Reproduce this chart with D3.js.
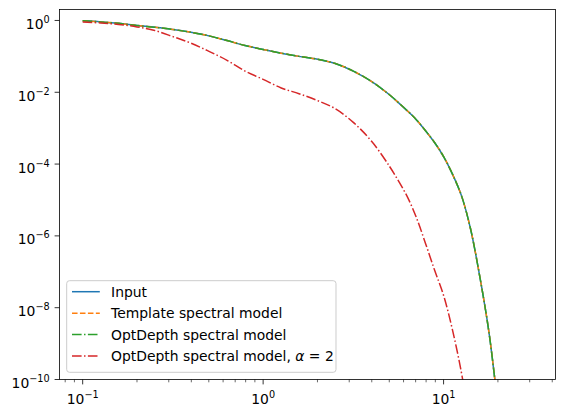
<!DOCTYPE html>
<html>
<head>
<meta charset="utf-8">
<script src="https://cdn.jsdelivr.net/npm/d3@7"></script>
<style>
  body { margin: 0; background: #fff; }
  svg text { font-family: "DejaVu Sans", sans-serif; fill: #000; }
</style>
</head>
<body>
<div id="chart"></div>
<script>
// energies (x) shared by all curves
var energy = [0.1, 0.126, 0.158, 0.2, 0.251, 0.316, 0.398, 0.501, 0.631, 0.794,
  1, 1.26, 1.58, 2.0, 2.51, 3.16, 3.98, 5.01, 5.62, 6.31, 7.08, 7.94, 8.91,
  10, 11.2, 12.6, 14.1, 15.8, 17.8, 20.0, 25.1, 31.6];

var inputFlux = [0.977, 0.912, 0.832, 0.724, 0.646, 0.562, 0.468, 0.372, 0.275, 0.200,
  0.155, 0.123, 0.100, 0.0832, 0.0631, 0.0389, 0.0200, 8.51e-3, 5.13e-3, 3.02e-3,
  1.70e-3, 8.51e-4, 3.98e-4, 1.62e-4, 5.25e-5, 1.26e-5, 1.58e-6, 8.32e-8, 2.24e-9,
  2.0e-11, 3.2e-15, 1e-19];
// the two models sit on top of the input at this scale
var templateFlux = inputFlux;
var optDepthFlux = inputFlux;

var optDepthAlpha2Flux = [0.912, 0.851, 0.776, 0.661, 0.525, 0.355, 0.234, 0.138, 0.0776, 0.0389,
  0.0229, 0.0132, 9.12e-3, 5.89e-3, 3.47e-3, 1.45e-3, 4.37e-4, 8.71e-5, 3.39e-5, 1.20e-5,
  3.16e-6, 6.17e-7, 1.12e-7, 2.19e-8, 2.40e-9, 1.41e-10, 4.0e-12, 6.3e-14, 1e-16,
  1e-19, 1e-28, 1e-38];

var seriesNames = ["Input", "Template spectral model", "OptDepth spectral model",
  "OptDepth spectral model, \u03b1 = 2"];

var xTicks = [0.1, 1, 10];
var xTickExp = ["\u22121", "0", "1"];
var yTicks = [1, 1e-2, 1e-4, 1e-6, 1e-8, 1e-10];
var yTickExp = ["0", "\u22122", "\u22124", "\u22126", "\u22128", "\u221210"];

var svgWidth = 565;
var svgHeight = 417;
var margin = { top: 9.5, right: 9.5, bottom: 37.5, left: 59.5 };
var width = svgWidth - margin.left - margin.right;
var height = svgHeight - margin.top - margin.bottom;

var svg = d3.select("#chart")
  .append("svg")
  .attr("width", svgWidth)
  .attr("height", svgHeight);

var chartGroup = svg.append("g")
  .attr("transform", `translate(${margin.left}, ${margin.top})`);

var x = d3.scaleLog().domain([0.0744, 41.7]).range([0, width]);
var y = d3.scaleLog().domain([1e-10, 2.02]).range([height, 0]);

svg.append("defs").append("clipPath").attr("id", "plotclip")
  .append("rect").attr("width", width).attr("height", height);

var line = d3.line()
  .x(d => x(d[0]))
  .y(d => y(d[1]))
  .curve(d3.curveCatmullRom.alpha(0.5));

var series = [
  { values: inputFlux, color: "#1f77b4", dash: null },
  { values: templateFlux, color: "#ff7f0e", dash: "5.55,2.4" },
  { values: optDepthFlux, color: "#2ca02c", dash: "9.6,2.4,1.5,2.4" },
  { values: optDepthAlpha2Flux, color: "#d62728", dash: "9.6,2.4,1.5,2.4" }
];

var lines = chartGroup.append("g").attr("clip-path", "url(#plotclip)");
series.forEach(function(s) {
  lines.append("path")
    .datum(energy.map((e, i) => [e, s.values[i]]))
    .attr("d", line)
    .attr("fill", "none")
    .attr("stroke", s.color)
    .attr("stroke-width", 1.5)
    .attr("stroke-dasharray", s.dash);
});

// x axis: major + minor ticks
var xMinor = [];
[0.01, 0.1, 1, 10].forEach(function(dec) {
  for (var k = 2; k <= 9; k++) {
    var v = dec * k;
    if (v >= x.domain()[0] && v <= x.domain()[1]) xMinor.push(v);
  }
});
var xAxis = chartGroup.append("g").attr("transform", `translate(0, ${height})`);
xAxis.selectAll("line.minor").data(xMinor).enter().append("line")
  .attr("x1", d => x(d)).attr("x2", d => x(d))
  .attr("y1", 0).attr("y2", 2.8)
  .attr("stroke", "#000").attr("stroke-width", 0.6);
xAxis.selectAll("line.major").data(xTicks).enter().append("line")
  .attr("x1", d => x(d)).attr("x2", d => x(d))
  .attr("y1", 0).attr("y2", 4.9)
  .attr("stroke", "#000").attr("stroke-width", 0.8);
var xLab = xAxis.selectAll("text").data(xTicks).enter().append("text")
  .attr("x", d => x(d))
  .attr("y", 24)
  .attr("text-anchor", "middle")
  .style("font-size", "13.9px");
xLab.append("tspan").text("10");
xLab.append("tspan").attr("dy", -6).style("font-size", "9.7px").text((d, i) => xTickExp[i]);

// y axis
var yAxis = chartGroup.append("g");
yAxis.selectAll("line").data(yTicks).enter().append("line")
  .attr("x1", -4.9).attr("x2", 0)
  .attr("y1", d => y(d)).attr("y2", d => y(d))
  .attr("stroke", "#000").attr("stroke-width", 0.8);
var yLab = yAxis.selectAll("text").data(yTicks).enter().append("text")
  .attr("x", -9.8)
  .attr("y", d => y(d) + 8.5)
  .attr("text-anchor", "end")
  .style("font-size", "13.9px");
yLab.append("tspan").text("10");
yLab.append("tspan").attr("dy", -6).style("font-size", "9.7px").text((d, i) => yTickExp[i]);

// frame
chartGroup.append("rect")
  .attr("width", width).attr("height", height)
  .attr("fill", "none").attr("stroke", "#000").attr("stroke-width", 0.8);

// legend
var legend = svg.append("g").attr("transform", "translate(66.7, 280.7)");
legend.append("rect")
  .attr("width", 269.3).attr("height", 91.6)
  .attr("rx", 2.8)
  .attr("fill", "#fff").attr("fill-opacity", 0.8)
  .attr("stroke", "#cccccc").attr("stroke-width", 1);
series.forEach(function(s, i) {
  var cy = 11 + i * 21.45;
  legend.append("line")
    .attr("x1", 5.3).attr("x2", 33.1)
    .attr("y1", cy).attr("y2", cy)
    .attr("stroke", s.color).attr("stroke-width", 1.5)
    .attr("stroke-dasharray", s.dash);
  var t = legend.append("text")
    .attr("x", 44.4).attr("y", cy + 5)
    .style("font-size", "13.9px");
  if (i < 3) {
    t.text(seriesNames[i]);
  } else {
    var parts = seriesNames[i].split("\u03b1");
    t.append("tspan").text(parts[0]);
    t.append("tspan").style("font-style", "italic").text("\u03b1");
    t.append("tspan").text(parts[1]);
  }
});
</script>
</body>
</html>
